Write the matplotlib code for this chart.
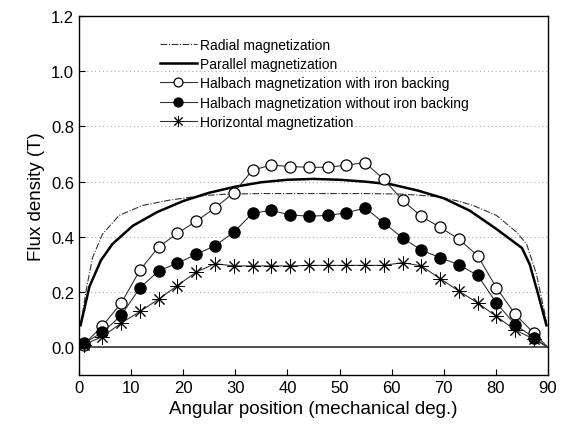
import matplotlib
matplotlib.use("Agg")
import matplotlib.pyplot as plt

plt.rcParams["font.family"] = ["Liberation Sans", "DejaVu Sans"]

# marker positions (mechanical deg.)
angle = [0.9, 4.5, 8.1, 11.7, 15.3, 18.9, 22.5, 26.1, 29.7, 33.3, 36.9, 40.5, 44.1,
         47.7, 51.3, 54.9, 58.5, 62.1, 65.7, 69.3, 72.9, 76.5, 80.1, 83.7, 87.3]
halbach_iron = [0.01, 0.078, 0.16, 0.28, 0.364, 0.413, 0.457, 0.505, 0.56, 0.642, 0.66, 0.655,
                0.652, 0.652, 0.66, 0.669, 0.608, 0.533, 0.474, 0.435, 0.392, 0.332, 0.216, 0.12, 0.051]
halbach_no_iron = [0.015, 0.054, 0.116, 0.216, 0.277, 0.305, 0.337, 0.368, 0.417, 0.486, 0.496, 0.48,
                   0.475, 0.478, 0.487, 0.505, 0.451, 0.396, 0.352, 0.325, 0.299, 0.261, 0.161, 0.082, 0.035]
horizontal = [0.01, 0.039, 0.088, 0.13, 0.175, 0.224, 0.273, 0.303, 0.295, 0.295, 0.295, 0.295,
              0.297, 0.297, 0.297, 0.297, 0.297, 0.307, 0.295, 0.249, 0.204, 0.161, 0.112, 0.063, 0.03]
end_x, end_y = 90.0, 0.0

# continuous curves
parallel_x = [0.3, 2, 4.2, 6.4, 10.3, 15, 20, 25, 30, 35, 40, 45, 50, 55, 60, 65, 70, 75, 80, 85, 86.5, 88, 89.7]
parallel_y = [0.08, 0.22, 0.315, 0.374, 0.44, 0.49, 0.53, 0.56, 0.582, 0.598, 0.607, 0.61, 0.607,
              0.6, 0.59, 0.568, 0.54, 0.495, 0.43, 0.36, 0.3, 0.2, 0.08]
radial_x = [0.3, 1.5, 2.6, 4.5, 7.7, 12.2, 17.3, 23, 28.2, 35, 45, 55, 62, 66, 69.2, 72.7, 75.6,
            80.1, 84, 85.9, 87.8, 89.7]
radial_y = [0.08, 0.22, 0.325, 0.41, 0.478, 0.514, 0.533, 0.548, 0.555, 0.557, 0.557, 0.557, 0.555,
            0.55, 0.545, 0.53, 0.514, 0.478, 0.417, 0.374, 0.264, 0.095]

fig = plt.figure(figsize=(5.66, 4.39), dpi=100)
ax = fig.add_axes([79 / 566, 1 - 376 / 439, 469 / 566, 359 / 439])

for yv in [0.2, 0.4, 0.6, 0.8, 1.0]:
    ax.axhline(yv, color="#aaaaaa", lw=0.8, ls=(0, (1, 2.5)), zorder=0)
ax.axhline(0, color="#444444", lw=1.3, zorder=1)

n = len(angle)
ax.plot(radial_x, radial_y, color="#333333", lw=0.8, ls=(0, (6, 1.5, 1, 1.5)),
        label="Radial magnetization")
ax.plot(parallel_x, parallel_y, color="black", lw=1.8, label="Parallel magnetization")
ax.plot(angle + [end_x], halbach_iron + [end_y], color="#333333", lw=0.8, marker="o", ms=8,
        mfc="white", mec="black", mew=0.9, markevery=list(range(n)),
        label="Halbach magnetization with iron backing")
ax.plot(angle + [end_x], halbach_no_iron + [end_y], color="#333333", lw=0.8, marker="o", ms=8,
        mfc="black", mec="black", markevery=list(range(n)),
        label="Halbach magnetization without iron backing")
ax.plot(angle + [end_x], horizontal + [end_y], color="#333333", lw=0.8, marker=(8, 2, 0), ms=10,
        mec="black", mew=0.7, markevery=list(range(n)),
        label="Horizontal magnetization")

ax.set_xlim(0, 90)
ax.set_ylim(-0.1, 1.2)
ax.set_xticks(range(0, 91, 10))
ax.set_yticks([0.0, 0.2, 0.4, 0.6, 0.8, 1.0, 1.2])
ax.set_yticklabels(["0.0", "0.2", "0.4", "0.6", "0.8", "1.0", "1.2"])
ax.tick_params(direction="in", length=4, width=0.8, labelsize=12)
for s in ax.spines.values():
    s.set_linewidth(1.0)

ax.set_xlabel("Angular position (mechanical deg.)", fontsize=13.5)
ax.set_ylabel("Flux density (T)", fontsize=13.5)

ax.legend(loc="upper left", bbox_to_anchor=(0.16, 0.955), frameon=False, fontsize=10,
          handlelength=2.7, handletextpad=0.2, labelspacing=0.38, borderaxespad=0,
          markerscale=0.8)

fig.savefig("out.png", dpi=100)
